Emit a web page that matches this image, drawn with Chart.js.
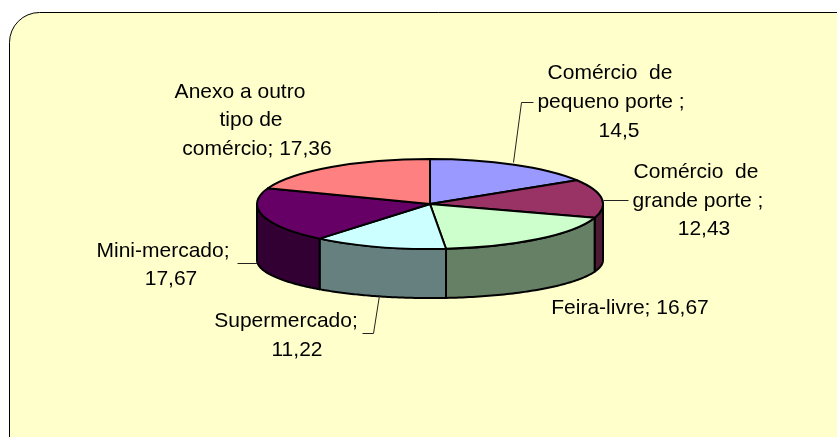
<!DOCTYPE html>
<html>
<head>
<meta charset="utf-8">
<script src="https://cdn.jsdelivr.net/npm/chart.js@4/dist/chart.umd.min.js"></script>
<style>
  html, body { margin: 0; padding: 0; background: #fff; }
  canvas { display: block; }
</style>
</head>
<body>
<canvas id="pieChart" width="837" height="437"></canvas>
<script>
// data
const categories = ['Comércio de pequeno porte', 'Comércio de grande porte', 'Feira-livre', 'Supermercado', 'Mini-mercado', 'Anexo a outro tipo de comércio'];
const values = [14.5, 12.43, 16.67, 11.22, 17.67, 17.36];
const valueLabels = ['14,5', '12,43', '16,67', '11,22', '17,67', '17,36'];
const topColors = ['#9999FF', '#993366', '#CCFFCC', '#CCFFFF', '#660066', '#FF8080'];

// label layout: text lines, center x and baseline y of each line
const labelLayout = [
  { lines: ['Comércio  de', 'pequeno porte ;', valueLabels[0]], xs: [610, 611, 619], ys: [79, 108, 137] },
  { lines: ['Comércio  de', 'grande porte ;', valueLabels[1]], xs: [696, 698, 704], ys: [178, 207, 235] },
  { lines: ['Feira-livre; ' + valueLabels[2]], xs: [630], ys: [314] },
  { lines: ['Supermercado;', valueLabels[3]], xs: [286, 297], ys: [327, 356] },
  { lines: ['Mini-mercado;', valueLabels[4]], xs: [163, 171], ys: [257, 285] },
  { lines: ['Anexo a outro', 'tipo de', 'comércio; ' + valueLabels[5]], xs: [240, 251, 257], ys: [98, 126, 155] }
];
const leaders = [
  [[513, 162], [521, 102], [533, 102]],
  [[603, 200], [628, 200]],
  null,
  [[379, 295], [373, 333], [362, 333]],
  [[257, 263], [237, 263]],
  null
];

function darker(hex, f) {
  const n = parseInt(hex.slice(1), 16);
  const r = Math.round(((n >> 16) & 255) * f);
  const g = Math.round(((n >> 8) & 255) * f);
  const b = Math.round((n & 255) * f);
  return 'rgb(' + r + ',' + g + ',' + b + ')';
}

const frame = {
  id: 'frame',
  beforeDraw(chart) {
    const ctx = chart.ctx;
    const x = 9.5, y = 12.5, w = 900, h = 500, r = 30;
    ctx.save();
    ctx.beginPath();
    ctx.moveTo(x + r, y);
    ctx.lineTo(x + w, y);
    ctx.lineTo(x + w, y + h);
    ctx.lineTo(x, y + h);
    ctx.lineTo(x, y + r);
    ctx.arcTo(x, y, x + r, y, r);
    ctx.closePath();
    ctx.fillStyle = '#FFFFCC';
    ctx.fill();
    ctx.strokeStyle = '#000';
    ctx.lineWidth = 1;
    ctx.stroke();
    ctx.restore();
  }
};

// draws the arcs Chart.js computed as a tilted 3D pie
const pie3d = {
  id: 'pie3d',
  beforeDatasetsDraw(chart) {
    const ctx = chart.ctx;
    const arcs = chart.getDatasetMeta(0).data;
    const cx = arcs[0].x;
    const rx = arcs[0].outerRadius;
    const cy = 204, ry = rx * 0.26;       // top face
    const cy2 = 260, ry2 = rx * 0.22;     // bottom rim
    const topPt = a => [cx + rx * Math.cos(a), cy + ry * Math.sin(a)];
    const botPt = a => [cx + rx * Math.cos(a), cy2 + ry2 * Math.sin(a)];

    ctx.save();
    ctx.lineWidth = 2;
    ctx.lineJoin = 'round';
    ctx.strokeStyle = '#000';

    // side walls (front half only)
    arcs.forEach((arc, i) => {
      [-2 * Math.PI, 0, 2 * Math.PI].forEach(shift => {
        const a1 = Math.max(arc.startAngle + shift, 0);
        const a2 = Math.min(arc.endAngle + shift, Math.PI);
        if (a2 <= a1) return;
        const steps = 60;
        ctx.beginPath();
        for (let s = 0; s <= steps; s++) {
          const p = topPt(a1 + (a2 - a1) * s / steps);
          s === 0 ? ctx.moveTo(p[0], p[1]) : ctx.lineTo(p[0], p[1]);
        }
        for (let s = steps; s >= 0; s--) {
          const p = botPt(a1 + (a2 - a1) * s / steps);
          ctx.lineTo(p[0], p[1]);
        }
        ctx.closePath();
        ctx.fillStyle = darker(topColors[i], 0.5);
        ctx.fill();
        ctx.stroke();
      });
    });

    // top faces
    arcs.forEach((arc, i) => {
      ctx.beginPath();
      ctx.moveTo(cx, cy);
      ctx.ellipse(cx, cy, rx, ry, 0, arc.startAngle, arc.endAngle);
      ctx.closePath();
      ctx.fillStyle = topColors[i];
      ctx.fill();
      ctx.stroke();
    });
    ctx.restore();
    return false;
  },
  afterDraw(chart) {
    const ctx = chart.ctx;
    ctx.save();
    ctx.strokeStyle = '#222';
    ctx.lineWidth = 1;
    leaders.forEach(pts => {
      if (!pts) return;
      ctx.beginPath();
      pts.forEach((p, k) => k === 0 ? ctx.moveTo(p[0] + 0.5, p[1] + 0.5) : ctx.lineTo(p[0] + 0.5, p[1] + 0.5));
      ctx.stroke();
    });
    ctx.fillStyle = '#000';
    ctx.font = "21px 'Liberation Sans', Arial, sans-serif";
    ctx.textAlign = 'center';
    ctx.textBaseline = 'alphabetic';
    labelLayout.forEach(l => {
      l.lines.forEach((t, k) => ctx.fillText(t, l.xs[k], l.ys[k]));
    });
    ctx.restore();
  }
};

document.addEventListener('DOMContentLoaded', function() {
  const ctx = document.getElementById('pieChart').getContext('2d');
  new Chart(ctx, {
    type: 'pie',
    data: {
      labels: categories,
      datasets: [{
        data: values,
        backgroundColor: topColors,
        borderWidth: 0,
        hoverOffset: 0
      }]
    },
    options: {
      responsive: false,
      animation: false,
      layout: { padding: { left: 257, right: 234, top: 0, bottom: 0 } },
      plugins: {
        legend: { display: false },
        tooltip: { enabled: false }
      }
    },
    plugins: [frame, pie3d]
  });
});
</script>
</body>
</html>
